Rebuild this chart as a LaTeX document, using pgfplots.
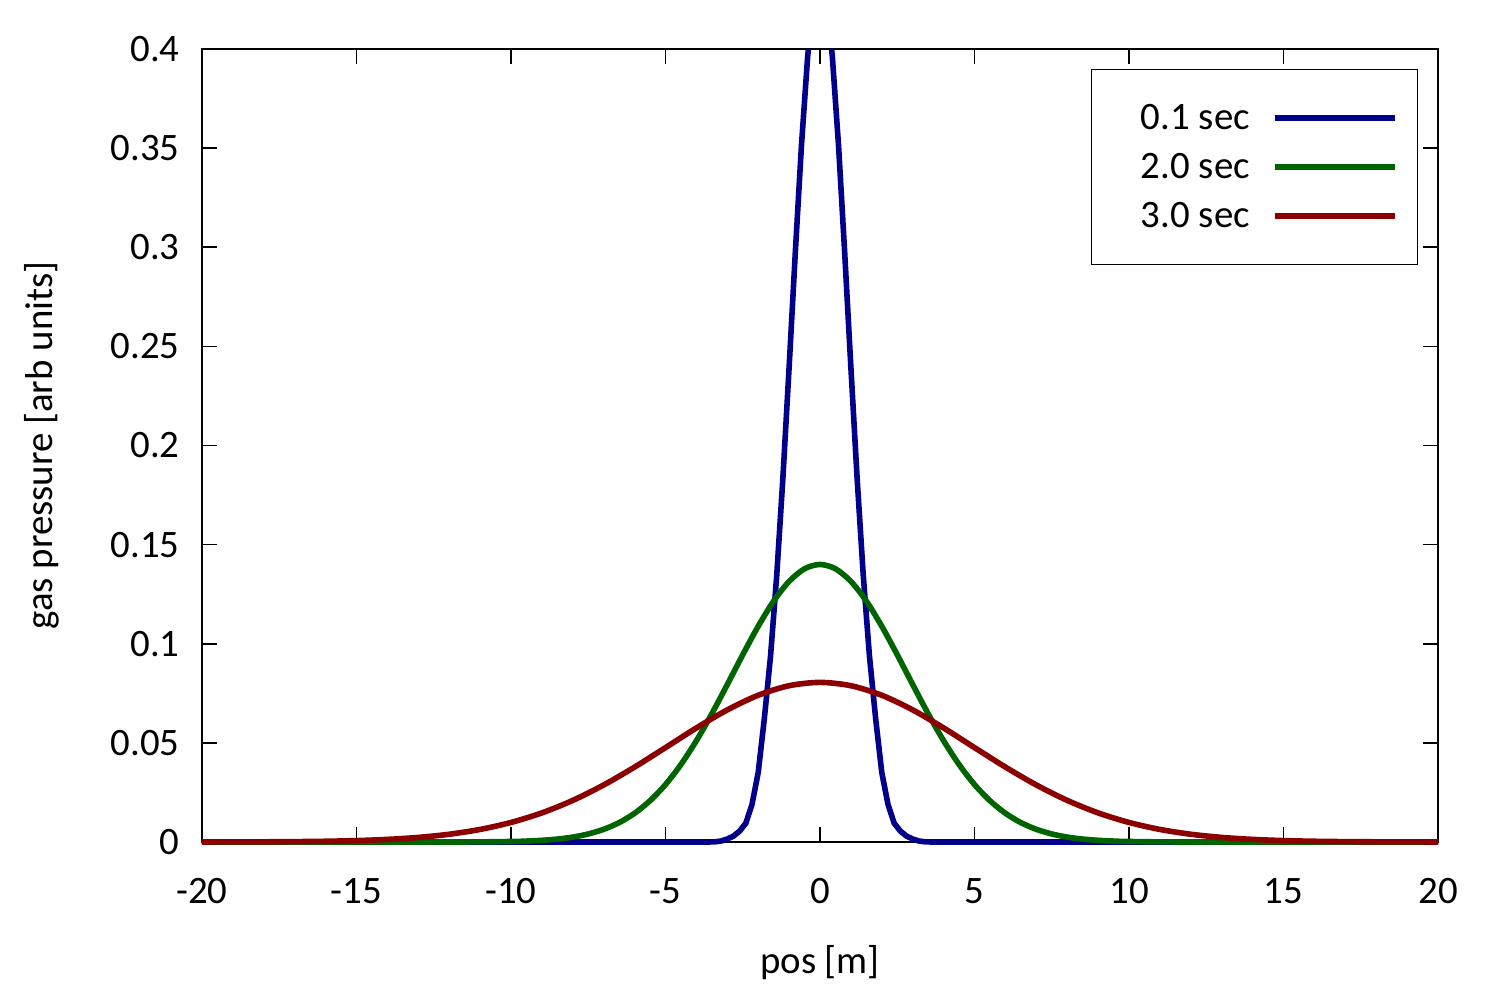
\documentclass[border=0pt]{standalone}
\usepackage{pgfplots}
\pgfplotsset{compat=1.18}
\usepackage{fontspec}
\setmainfont{Carlito}
\definecolor{dblue}{RGB}{0,0,139}
\definecolor{dgreen}{RGB}{0,100,0}
\definecolor{dred}{RGB}{139,0,0}
\newcommand\lblfont{\fontsize{19.5}{23}\selectfont}
\begin{document}
\begin{tikzpicture}
\begin{axis}[
 scale only axis, width=618bp, height=396.5bp,
 xmin=-20, xmax=20, ymin=0, ymax=0.4,
 xtick={-20,-15,-10,-5,0,5,10,15,20},
 ytick={0,0.05,0.1,0.15,0.2,0.25,0.3,0.35,0.4},
 scaled y ticks=false,
 tick align=inside, major tick length=7.5bp,
 every tick/.style={black, line width=0.75bp},
 axis line style={line width=0.75bp},
 clip=false,
 unbounded coords=jump,
 /pgf/number format/assume math mode=true,
 tick label style={font=\lblfont},
 yticklabel style={/pgf/number format/fixed, /pgf/number format/precision=2, inner sep=0pt, xshift=-11bp},
 xticklabel style={inner sep=0pt, anchor=north, yshift=-18bp},
 xlabel={pos [m]}, ylabel={gas pressure [arb units]},
 label style={font=\lblfont},
 xlabel style={at={(axis description cs:0.5,-0.1526)}, anchor=center},
 ylabel style={at={(axis description cs:-0.1294,0.5)}, anchor=center},
 legend style={at={(axis description cs:1,1)}, anchor=north east, xshift=-10bp, yshift=-10bp,
   draw=black, line width=0.5bp, fill=white, inner xsep=10bp, inner ysep=12bp,
   row sep=0pt, column sep=11bp, font=\lblfont, nodes={inner sep=0pt, minimum height=24.5bp}},
 legend cell align=right, legend plot pos=right,
 legend image code/.code={\draw[#1] (0bp,0bp) -- (60bp,0bp);},
 every axis plot/.append style={line width=2.8bp, line join=round},
]
\addplot[dblue] coordinates {
(-20,0) (-3.6,0) (-3.4,0.0001) (-3.2,0.0005) (-3.0,0.0015) (-2.8,0.003) (-2.6,0.0055)
(-2.4,0.0095) (-2.2,0.019) (-2.0,0.035) (-1.8,0.0624) (-1.6,0.0939) (-1.4,0.1345)
(-1.2,0.1838) (-1.0,0.2393) (-0.8,0.2970) (-0.6,0.3513) (-0.4,0.3961) (-0.374,0.4)
(0,nan)
(0.374,0.4) (0.4,0.3961) (0.6,0.3513) (0.8,0.2970) (1.0,0.2393) (1.2,0.1838)
(1.4,0.1345) (1.6,0.0939) (1.8,0.0624) (2.0,0.035) (2.2,0.019) (2.4,0.0095)
(2.6,0.0055) (2.8,0.003) (3.0,0.0015) (3.2,0.0005) (3.4,0.0001) (3.6,0) (20,0)
};
\addlegendentry{\hspace*{14.5bp}0.1 sec}
\addplot[dgreen, smooth] coordinates {
(-20,0) (-12,0) (-10,0.00026) (-9.5,0.00047) (-9,0.00085) (-8.5,0.00148) (-8,0.00248)
(-7.5,0.00405) (-7,0.00639) (-6.5,0.00978) (-6,0.01449) (-5.5,0.02082) (-5,0.02898)
(-4.5,0.03909) (-4,0.05109) (-3.5,0.06471) (-3,0.07942) (-2.5,0.09444) (-2,0.10881)
(-1.5,0.12150) (-1,0.13145) (-0.5,0.13781) (0,0.1400) (0.5,0.13781) (1,0.13145)
(1.5,0.12150) (2,0.10881) (2.5,0.09444) (3,0.07942) (3.5,0.06471) (4,0.05109)
(4.5,0.03909) (5,0.02898) (5.5,0.02082) (6,0.01449) (6.5,0.00978) (7,0.00639)
(7.5,0.00405) (8,0.00248) (8.5,0.00148) (9,0.00085) (9.5,0.00047) (10,0.00026)
(12,0) (20,0)
};
\addlegendentry{\hspace*{14.5bp}2.0 sec}
\addplot[dred, smooth] coordinates {
(-20,0.00002) (-19,0.00004) (-18,0.00009) (-17,0.00019) (-16,0.00037) (-15,0.00071)
(-14,0.00131) (-13,0.00232) (-12,0.00391) (-11,0.00634) (-10,0.00986) (-9,0.01469)
(-8,0.02099) (-7,0.02877) (-6,0.03780) (-5,0.04762) (-4,0.05753) (-3,0.06664)
(-2,0.07401) (-1,0.07883) (0,0.0805) (1,0.07883) (2,0.07401) (3,0.06664) (4,0.05753)
(5,0.04762) (6,0.03780) (7,0.02877) (8,0.02099) (9,0.01469) (10,0.00986) (11,0.00634)
(12,0.00391) (13,0.00232) (14,0.00131) (15,0.00071) (16,0.00037) (17,0.00019)
(18,0.00009) (19,0.00004) (20,0.00002)
};
\addlegendentry{\hspace*{14.5bp}3.0 sec}
\coordinate (LL) at (rel axis cs:0,0);
\end{axis}
\pgfresetboundingbox
\path[use as bounding box] ([shift={(-101bp,-79bp)}]LL) rectangle ([shift={(649bp,421bp)}]LL);
\end{tikzpicture}
\end{document}
